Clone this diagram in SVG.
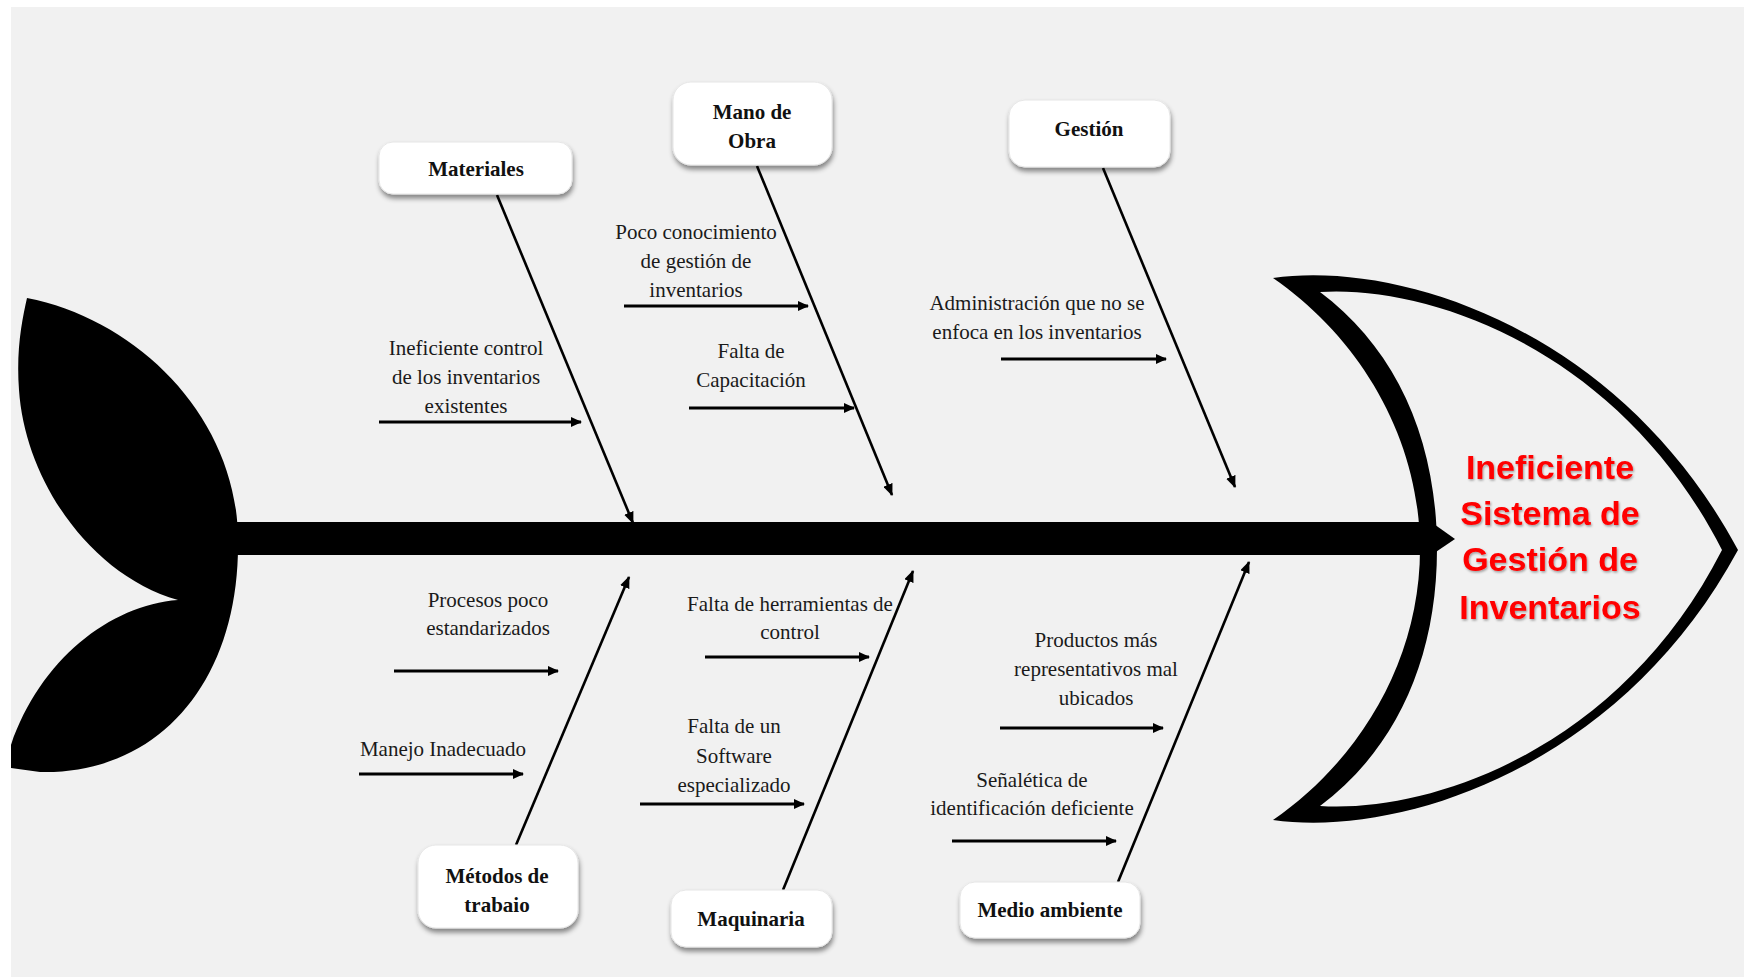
<svg xmlns="http://www.w3.org/2000/svg" width="1744" height="977" viewBox="0 0 1744 977">
<style>
.box{fill:#ffffff;stroke:#e6e6e6;stroke-width:1;filter:url(#sh)}
.lbl{font-family:"Liberation Serif","Times New Roman",serif;font-weight:bold;font-size:21px;fill:#111;text-anchor:middle}
.cause{font-family:"Liberation Serif","Times New Roman",serif;font-size:21px;fill:#1a1a1a;text-anchor:middle}
.bone{stroke:#000;stroke-width:2.6;fill:none;marker-end:url(#ah)}
.sub{stroke:#000;stroke-width:3.2;fill:none;marker-end:url(#ah2)}
.title{font-family:"Liberation Sans",Arial,sans-serif;font-weight:bold;font-size:34px;fill:#ff0000;text-anchor:middle;filter:url(#tsh)}
</style>
<defs>
<filter id="sh" x="-20%" y="-20%" width="150%" height="160%">
<feDropShadow dx="1" dy="4" stdDeviation="2.5" flood-color="#000" flood-opacity="0.45"/>
</filter>
<filter id="tsh" x="-10%" y="-20%" width="120%" height="150%">
<feDropShadow dx="1" dy="1.5" stdDeviation="1.2" flood-color="#000" flood-opacity="0.35"/>
</filter>
<marker id="ah" viewBox="0 0 12 10" refX="11" refY="5" markerWidth="12" markerHeight="10" orient="auto" markerUnits="userSpaceOnUse">
<path d="M0,0 L12,5 L0,10 z" fill="#000"/>
</marker>
<marker id="ah2" viewBox="0 0 11 10" refX="10" refY="5" markerWidth="11" markerHeight="10" orient="auto" markerUnits="userSpaceOnUse">
<path d="M0,0 L11,5 L0,10 z" fill="#000"/>
</marker>
</defs>

<rect x="0" y="0" width="1744" height="977" fill="#ffffff"/>
<rect x="11" y="7" width="1733" height="970" fill="#f1f1f1"/>

<g id="tail">
<path d="M27,298 C140,320 238,420 238,540 C240,680 160,775 40,772 L11,768 L11,745 C40,660 110,605 178,600 C90,575 25,480 19,390 C16,350 22,320 27,298 Z" fill="#000"/>
</g>

<g id="spine">
<rect x="236" y="522" width="1192" height="33" fill="#000"/>
<path d="M1424,517 L1455,539 L1424,560 Z" fill="#000"/>
</g>

<g id="head">
<path fill="#000" fill-rule="evenodd" d="M1273,278 C1400,260 1620,330 1738,550 C1620,768 1400,838 1273,820 C1360,760 1420,660 1420,549 C1420,438 1360,338 1273,278 Z M1320,292 C1430,285 1620,350 1722,550 C1620,750 1430,813 1320,806 C1395,750 1437,660 1437,549 C1437,438 1395,348 1320,292 Z"/>
<text class="title" x="1550" y="479">Ineficiente</text>
<text class="title" x="1550" y="525">Sistema de</text>
<text class="title" x="1550" y="571">Gestión de</text>
<text class="title" x="1550" y="619">Inventarios</text>
</g>

<g id="connectors">
<line class="bone" x1="497" y1="195" x2="633" y2="523"/>
<line class="bone" x1="757" y1="166" x2="892" y2="495"/>
<line class="bone" x1="1103" y1="168" x2="1235" y2="487"/>
<line class="bone" x1="516" y1="845" x2="629" y2="577"/>
<line class="bone" x1="783" y1="890" x2="913" y2="571"/>
<line class="bone" x1="1118" y1="882" x2="1249" y2="562"/>

<line class="sub" x1="379" y1="422" x2="581" y2="422"/>
<line class="sub" x1="624" y1="306" x2="808" y2="306"/>
<line class="sub" x1="689" y1="408" x2="854" y2="408"/>
<line class="sub" x1="1001" y1="359" x2="1166" y2="359"/>
<line class="sub" x1="394" y1="671" x2="558" y2="671"/>
<line class="sub" x1="359" y1="774" x2="523" y2="774"/>
<line class="sub" x1="705" y1="657" x2="869" y2="657"/>
<line class="sub" x1="640" y1="804" x2="804" y2="804"/>
<line class="sub" x1="1000" y1="728" x2="1163" y2="728"/>
<line class="sub" x1="952" y1="841" x2="1116" y2="841"/>
</g>

<g id="materiales">
<rect class="box" x="379" y="142" width="193" height="52" rx="14"/>
<text class="lbl" x="476" y="176">Materiales</text>
</g>
<g id="mano-de-obra">
<rect class="box" x="673" y="82" width="159" height="83" rx="18"/>
<text class="lbl" x="752" y="119">Mano de</text>
<text class="lbl" x="752" y="148">Obra</text>
</g>
<g id="gestion">
<rect class="box" x="1009" y="100" width="161" height="67" rx="16"/>
<text class="lbl" x="1089" y="136">Gestión</text>
</g>
<g id="metodos">
<rect class="box" x="418" y="845" width="160" height="83" rx="18"/>
<text class="lbl" x="497" y="883">Métodos de</text>
<text class="lbl" x="497" y="912">trabaio</text>
</g>
<g id="maquinaria">
<rect class="box" x="671" y="890" width="161" height="57" rx="15"/>
<text class="lbl" x="751" y="926">Maquinaria</text>
</g>
<g id="medio-ambiente">
<rect class="box" x="960" y="882" width="180" height="56" rx="15"/>
<text class="lbl" x="1050" y="917">Medio ambiente</text>
</g>

<g id="causes">
<text class="cause" x="466" y="355">Ineficiente control</text>
<text class="cause" x="466" y="384">de los inventarios</text>
<text class="cause" x="466" y="413">existentes</text>

<text class="cause" x="696" y="239">Poco conocimiento</text>
<text class="cause" x="696" y="268">de gestión de</text>
<text class="cause" x="696" y="297">inventarios</text>

<text class="cause" x="751" y="358">Falta de</text>
<text class="cause" x="751" y="387">Capacitación</text>

<text class="cause" x="1037" y="310">Administración que no se</text>
<text class="cause" x="1037" y="339">enfoca en los inventarios</text>

<text class="cause" x="488" y="607">Procesos poco</text>
<text class="cause" x="488" y="635">estandarizados</text>

<text class="cause" x="443" y="756">Manejo Inadecuado</text>

<text class="cause" x="790" y="611">Falta de herramientas de</text>
<text class="cause" x="790" y="639">control</text>

<text class="cause" x="734" y="733">Falta de un</text>
<text class="cause" x="734" y="763">Software</text>
<text class="cause" x="734" y="792">especializado</text>

<text class="cause" x="1096" y="647">Productos más</text>
<text class="cause" x="1096" y="676">representativos mal</text>
<text class="cause" x="1096" y="705">ubicados</text>

<text class="cause" x="1032" y="787">Señalética de</text>
<text class="cause" x="1032" y="815">identificación deficiente</text>
</g>
</svg>
